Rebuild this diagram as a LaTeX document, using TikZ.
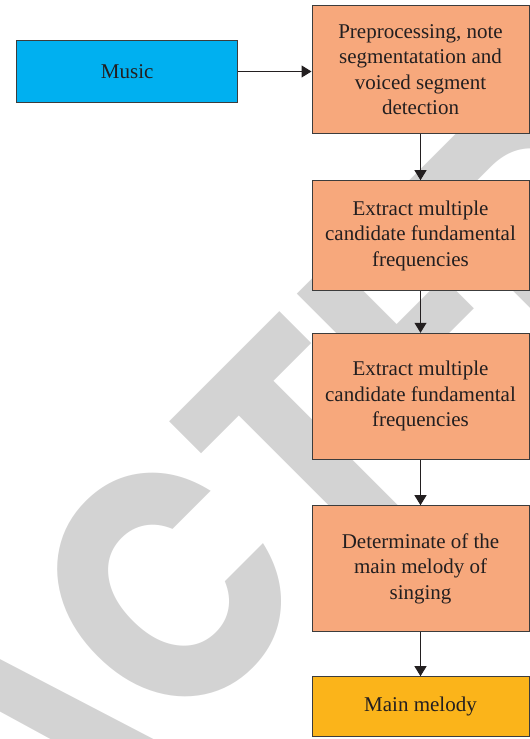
\documentclass[tikz,border=0pt]{standalone}
\usepackage{fontspec}
\setmainfont{Liberation Serif}
\newfontfamily\wmfont{Poppins}
\usetikzlibrary{arrows.meta}
\definecolor{musicblue}{RGB}{0,176,240}
\definecolor{boxorange}{RGB}{247,168,124}
\definecolor{melodyyellow}{RGB}{251,180,26}
\definecolor{wmgrey}{RGB}{211,211,211}
\definecolor{edgegrey}{RGB}{60,60,60}
\definecolor{txtdark}{RGB}{35,31,32}
\newlength\wmpre
\newcommand\wmstyle{\wmfont\bfseries\fontsize{330}{330}\selectfont}
\begin{document}
\settowidth{\wmpre}{\wmstyle RETRA}
\begin{tikzpicture}[x=1pt,y=1pt,
  boxbase/.style={draw=edgegrey, line width=1pt, text=txtdark, align=center, inner sep=0pt,
    font=\fontsize{21}{25.5}\selectfont},
  proc/.style={boxbase, fill=boxorange, minimum width=217pt},
  conn/.style={draw=txtdark, line width=1pt, -{Triangle[width=12pt,length=10pt]}},
  wm/.style={text=wmgrey, inner sep=0pt, anchor=base west, xscale=0.87, font=\wmstyle}]
\useasboundingbox (0,0) rectangle (530,739);
\begin{scope}
\clip (0,0) rectangle (530,739);
\begin{scope}[rotate=45, transform shape]
\node[wm] (wm) at ({118pt-0.87*\the\wmpre},-127pt) {RETRACTED};
\end{scope}
\end{scope}
\node[boxbase, fill=musicblue, minimum width=220.5pt, minimum height=62pt] (music) at (127.2,667.5) {Music};
\node[proc, minimum height=127.4pt] (b1) at (420.5,669.3) {Preprocessing, note\\segmentatation and\\voiced segment\\detection};
\node[proc, minimum height=110pt] (b2) at (420.5,503.3) {Extract multiple\\candidate fundamental\\frequencies};
\node[proc, minimum height=126pt] (b3) at (420.5,342.7) {Extract multiple\\candidate fundamental\\frequencies};
\node[proc, minimum height=126pt] (b4) at (420.5,170.3) {Determinate of the\\main melody of\\singing};
\node[boxbase, fill=melodyyellow, minimum width=217pt, minimum height=60pt] (b5) at (420.5,32.3) {Main melody};
\draw[conn] (music.east) -- (music.east -| b1.west);
\draw[conn] (b1) -- (b2);
\draw[conn] (b2) -- (b3);
\draw[conn] (b3) -- (b4);
\draw[conn] (b4) -- (b5);
\end{tikzpicture}
\end{document}
